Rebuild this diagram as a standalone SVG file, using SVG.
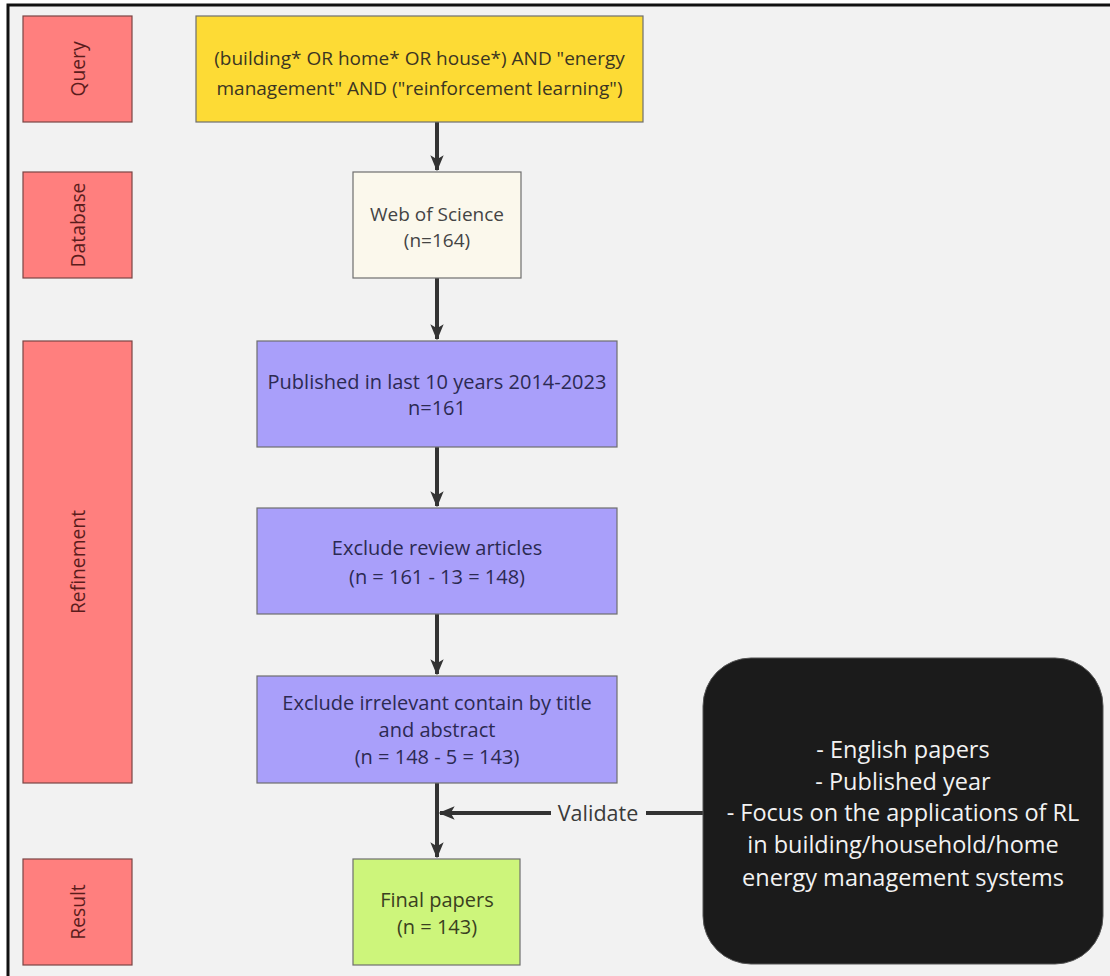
<svg xmlns="http://www.w3.org/2000/svg" width="1110" height="976" viewBox="0 0 1110 976">
<defs>
<style>
text{font-family:"Open Sans","Noto Sans","Liberation Sans",sans-serif;text-anchor:middle}
.lab rect{fill:#ff7f7e;stroke:#7a4545;stroke-width:1.2}
.lab text{font-size:19.3px;fill:#5a1c1c}
.box{stroke:#6e6e6e;stroke-width:1.2}
.t{font-size:20px}
.t19{font-size:19px}
.conn{stroke:#333;stroke-width:4;fill:none}
</style>
<marker id="ah" viewBox="0 0 12 10" refX="11" refY="5" markerWidth="4" markerHeight="3.4" orient="auto" markerUnits="strokeWidth">
<path d="M0,0 L12,5 L0,10 L3,5 Z" fill="#333"/>
</marker>
</defs>
<rect x="0" y="0" width="1110" height="976" fill="#fff"/>
<rect x="8" y="5" width="1120" height="990" fill="#f2f2f2" stroke="#111" stroke-width="3"/>

<g id="label-query" class="lab"><rect x="23" y="16" width="109" height="106"/><text transform="translate(85,69) rotate(-90)">Query</text></g>
<g id="label-database" class="lab"><rect x="23" y="172" width="109" height="106"/><text transform="translate(85,225) rotate(-90)">Database</text></g>
<g id="label-refinement" class="lab"><rect x="23" y="341" width="109" height="442"/><text transform="translate(85,562) rotate(-90)">Refinement</text></g>
<g id="label-result" class="lab"><rect x="23" y="859" width="109" height="106"/><text transform="translate(85,912) rotate(-90)">Result</text></g>

<g id="connectors">
<line class="conn" x1="437" y1="122" x2="437" y2="170" marker-end="url(#ah)"/>
<line class="conn" x1="437" y1="278" x2="437" y2="339" marker-end="url(#ah)"/>
<line class="conn" x1="437" y1="447" x2="437" y2="506" marker-end="url(#ah)"/>
<line class="conn" x1="437" y1="614" x2="437" y2="674" marker-end="url(#ah)"/>
<line class="conn" x1="437" y1="783" x2="437" y2="857" marker-end="url(#ah)"/>
<line class="conn" x1="703" y1="813" x2="646" y2="813" stroke-width="3"/>
<line class="conn" x1="551" y1="813" x2="440" y2="813" stroke-width="3" marker-end="url(#ah)"/>
<text x="598" y="821" font-size="21.5" fill="#3a3a3a">Validate</text>
</g>

<g id="query">
<rect class="box" x="196" y="16" width="447" height="106" fill="#fddb35"/>
<text class="t19" fill="#3b3522"><tspan x="419.5" y="65">(building* OR home* OR house*) AND "energy</tspan><tspan x="419.5" y="95">management" AND ("reinforcement learning")</tspan></text>
</g>
<g id="database">
<rect class="box" x="353" y="172" width="168" height="106" fill="#fbf8ec"/>
<text class="t19" fill="#444"><tspan x="437" y="221">Web of Science</tspan><tspan x="437" y="247">(n=164)</tspan></text>
</g>
<g id="published">
<rect class="box" x="257" y="341" width="360" height="106" fill="#a99ffa"/>
<text class="t" fill="#2c2a52"><tspan x="437" y="389">Published in last 10 years 2014-2023</tspan><tspan x="437" y="415">n=161</tspan></text>
</g>
<g id="exclude-review">
<rect class="box" x="257" y="508" width="360" height="106" fill="#a99ffa"/>
<text class="t" fill="#2c2a52"><tspan x="437" y="555">Exclude review articles</tspan><tspan x="437" y="584">(n = 161 - 13 = 148)</tspan></text>
</g>
<g id="exclude-irrelevant">
<rect class="box" x="257" y="676" width="360" height="107" fill="#a99ffa"/>
<text class="t" fill="#2c2a52"><tspan x="437" y="710">Exclude irrelevant contain by title</tspan><tspan x="437" y="737">and abstract</tspan><tspan x="437" y="764">(n = 148 - 5 = 143)</tspan></text>
</g>
<g id="final">
<rect class="box" x="353" y="859" width="167" height="106" fill="#cdf57b"/>
<text class="t" fill="#3a4020"><tspan x="437" y="907">Final papers</tspan><tspan x="437" y="934">(n = 143)</tspan></text>
</g>
<g id="criteria">
<rect x="703" y="658" width="400" height="306" rx="48" ry="48" fill="#1b1b1b" stroke="#555" stroke-width="1"/>
<text font-size="23.5" fill="#f2f2f2"><tspan x="903" y="758">- English papers</tspan><tspan x="903" y="790">- Published year</tspan><tspan x="903" y="821">- Focus on the applications of RL</tspan><tspan x="903" y="853">in building/household/home</tspan><tspan x="903" y="886">energy management systems</tspan></text>
</g>
</svg>
